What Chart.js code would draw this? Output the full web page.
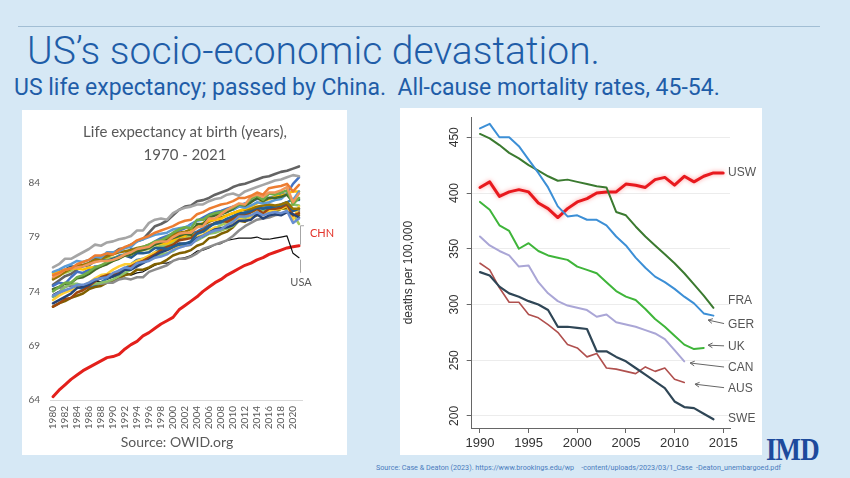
<!DOCTYPE html>
<html><head><meta charset="utf-8">
<script src="https://cdn.jsdelivr.net/npm/chart.js@4.4.1/dist/chart.umd.min.js"></script>
<style>
html,body{margin:0;padding:0;}
body{width:850px;height:478px;background:#d6e8f5;position:relative;overflow:hidden;font-family:Roboto,"Liberation Sans",sans-serif;}
.abs{position:absolute;white-space:nowrap;}
#rule{left:18px;top:26px;width:802px;height:1px;background:#a2bed4;}
#title{left:27px;top:28px;font-size:39px;font-weight:300;color:#1f5da8;}
#subtitle{left:14px;top:74px;font-size:23px;color:#1f5da8;}
.panel{position:absolute;background:#fff;}
#pL{left:22px;top:110px;width:325px;height:345px;}
#pR{left:400px;top:108px;width:362px;height:347px;}
#lt{left:0;width:326px;text-align:center;top:10px;font-family:Lato,sans-serif;font-size:15px;line-height:23px;color:#595959;}
#ls{left:0;width:310px;text-align:center;top:323px;font-family:Lato,sans-serif;font-size:14px;color:#595959;}
#foot{left:376px;top:463px;font-size:7.2px;color:#4a7cbd;white-space:pre;}
#imd{left:766px;top:431px;font-family:"Liberation Serif",serif;font-weight:bold;font-size:32px;color:#1d4a9c;transform:scaleX(0.84);transform-origin:left top;letter-spacing:-1px;}
canvas{position:absolute;left:0;top:0;}
</style></head>
<body>
<div id="rule" class="abs"></div>
<div id="title" class="abs">US’s socio-economic devastation.</div>
<div id="subtitle" class="abs">US life expectancy; passed by China.&nbsp; All-cause mortality rates, 45-54.</div>
<div id="pL" class="panel">
  <canvas id="cL" width="325" height="345"></canvas>
  <div id="lt" class="abs">Life expectancy at birth (years),<br>1970 - 2021</div>
  <div id="ls" class="abs">Source: OWID.org</div>
</div>
<div id="pR" class="panel">
  <canvas id="cR" width="362" height="347"></canvas>
</div>
<div id="foot" class="abs">Source: Case &amp; Deaton (2023). https://www.brookings.edu/wp    -content/uploads/2023/03/1_Case  -Deaton_unembargoed.pdf</div>
<div id="imd" class="abs">IMD</div>
<script>
// ---------- LEFT CHART DATA (life expectancy, 1980-2021) ----------
const years = [1980,1981,1982,1983,1984,1985,1986,1987,1988,1989,1990,1991,1992,1993,1994,1995,1996,1997,1998,1999,2000,2001,2002,2003,2004,2005,2006,2007,2008,2009,2010,2011,2012,2013,2014,2015,2016,2017,2018,2019,2020,2021];
const yTicksLeft = [64,69,74,79,84];

const japan = [76.2,76.5,77.0,77.0,77.3,77.6,77.9,78.3,78.2,78.5,78.6,78.8,78.9,79.1,79.6,79.6,80.3,80.6,80.7,80.6,81.2,81.5,81.7,81.8,82.0,82.0,82.3,82.5,82.6,82.9,83.0,82.8,83.2,83.4,83.6,83.8,84.0,84.2,84.3,84.5,84.7,84.6];
const hongKong = [74.6,75.0,75.4,75.6,76.0,76.4,76.6,77.0,77.2,77.3,77.5,77.9,78.0,78.3,78.6,78.8,79.4,80.0,80.2,80.5,81.0,81.5,81.8,81.9,82.3,82.4,82.6,82.9,83.1,83.3,83.6,83.8,83.9,84.1,84.3,84.5,84.6,84.8,85.0,85.1,85.3,85.5];
const switzerland = [75.5,75.7,76.0,76.1,76.5,76.7,76.9,77.3,77.3,77.5,77.4,77.8,78.1,78.3,78.7,78.9,79.1,79.4,79.6,79.8,80.0,80.3,80.5,80.6,81.1,81.3,81.6,81.8,82.0,82.1,82.3,82.6,82.6,82.8,83.1,82.9,83.5,83.6,83.7,83.9,83.2,83.8];
const spain = [75.3,75.6,76.0,76.1,76.2,76.3,76.5,76.7,76.8,76.8,76.9,77.1,77.4,77.6,77.9,78.0,78.1,78.5,78.6,78.6,79.0,79.3,79.4,79.4,79.9,80.0,80.7,80.7,81.1,81.5,81.8,82.1,82.0,82.7,82.9,82.7,83.1,83.1,83.3,83.6,82.2,83.0];
const italy = [74.0,74.4,74.8,74.8,75.3,75.5,75.8,76.2,76.4,76.7,76.9,77.1,77.4,77.6,77.9,78.1,78.3,78.6,78.7,79.0,79.4,79.7,79.9,79.8,80.6,80.6,81.0,81.2,81.3,81.5,81.7,82.0,82.0,82.5,82.8,82.4,83.0,82.9,83.1,83.3,82.0,82.6];
const france = [74.2,74.4,74.7,74.8,75.2,75.3,75.6,76.0,76.3,76.5,76.8,77.0,77.3,77.4,77.7,77.8,78.0,78.3,78.5,78.7,78.9,79.1,79.3,79.2,80.2,80.2,80.8,81.0,81.1,81.3,81.6,82.0,81.9,82.2,82.6,82.3,82.6,82.6,82.7,82.9,82.2,82.5];
const sweden = [75.8,76.0,76.3,76.5,76.8,76.7,76.9,77.2,77.1,77.6,77.6,77.7,78.0,78.1,78.6,78.8,79.0,79.2,79.3,79.4,79.7,79.8,79.9,80.1,80.5,80.6,80.8,81.0,81.2,81.4,81.5,81.8,81.7,81.9,82.2,82.1,82.2,82.4,82.5,83.0,82.4,83.2];
const australia = [74.5,74.8,74.7,75.3,75.8,75.7,76.0,76.3,76.3,76.6,77.0,77.3,77.4,77.9,77.9,78.0,78.2,78.6,78.9,79.1,79.3,79.6,79.8,80.2,80.5,80.8,81.1,81.3,81.4,81.6,81.8,81.9,82.1,82.3,82.5,82.5,82.6,82.7,82.9,83.0,83.9,84.5];
const norway = [75.7,75.8,76.0,76.1,76.1,76.0,76.2,76.2,76.3,76.6,76.8,77.1,77.3,77.4,77.8,77.9,78.2,78.3,78.4,78.4,78.7,79.0,79.1,79.5,79.9,80.3,80.5,80.6,80.7,81.0,81.2,81.4,81.6,81.8,82.1,82.3,82.5,82.7,82.8,83.0,83.2,83.2];
const canada = [75.1,75.4,75.8,76.1,76.4,76.4,76.6,76.9,77.0,77.2,77.4,77.6,77.7,77.8,78.0,78.1,78.3,78.5,78.6,78.8,79.2,79.4,79.5,79.7,80.0,80.1,80.4,80.6,80.8,81.0,81.2,81.4,81.5,81.6,81.8,81.9,82.0,81.9,82.0,82.2,81.6,81.6];
const netherlands = [75.7,75.9,76.0,76.3,76.3,76.3,76.4,76.8,76.9,76.8,77.0,77.2,77.3,77.1,77.5,77.5,77.6,78.0,78.0,77.9,78.1,78.3,78.4,78.6,79.3,79.5,79.9,80.3,80.4,80.7,80.9,81.2,81.2,81.4,81.7,81.6,81.7,81.8,81.9,82.2,81.4,81.6];
const uk = [73.6,73.9,74.1,74.3,74.6,74.6,74.8,75.1,75.2,75.3,75.7,75.9,76.2,76.1,76.6,76.7,76.8,77.1,77.2,77.4,77.8,78.0,78.2,78.3,78.8,79.1,79.4,79.6,79.7,80.1,80.4,80.9,80.9,81.0,81.3,81.0,81.2,81.3,81.2,81.4,80.3,80.7];
const germany = [72.9,73.2,73.5,73.8,74.3,74.4,74.6,75.0,75.2,75.3,75.4,75.6,76.0,76.0,76.3,76.6,76.9,77.3,77.6,77.8,78.1,78.4,78.4,78.4,78.9,79.1,79.4,79.7,79.8,79.9,80.1,80.5,80.5,80.6,81.1,80.7,81.0,81.1,81.0,81.3,81.1,80.8];
const austria = [72.6,72.9,73.3,73.4,73.9,74.1,74.5,74.9,75.3,75.5,75.6,75.8,76.0,76.3,76.6,76.8,77.1,77.4,77.8,78.1,78.3,78.7,78.8,78.9,79.4,79.6,80.0,80.3,80.5,80.4,80.7,81.1,81.0,81.3,81.6,81.2,81.6,81.6,81.7,82.0,81.0,81.2];
const belgium = [73.2,73.6,73.9,74.1,74.3,74.5,74.8,75.2,75.5,75.6,76.0,76.3,76.5,76.5,76.8,77.0,77.3,77.6,77.7,77.8,77.9,78.1,78.2,78.3,79.0,79.2,79.6,79.9,79.7,80.1,80.2,80.7,80.5,80.8,81.4,81.0,81.4,81.5,81.6,81.9,80.6,81.8];
const finland = [73.5,73.9,74.4,74.7,74.7,74.5,74.6,74.7,74.8,74.9,75.1,75.4,75.7,76.0,76.6,76.7,77.0,77.1,77.4,77.5,77.7,78.1,78.2,78.5,78.7,79.0,79.3,79.4,79.6,79.8,80.0,80.5,80.6,80.8,81.2,81.5,81.4,81.6,81.7,81.9,82.0,81.9];
const denmark = [74.2,74.3,74.4,74.6,74.6,74.5,74.6,74.7,74.7,74.8,74.8,75.1,75.2,75.1,75.3,75.3,75.8,76.0,76.2,76.4,76.8,77.0,77.0,77.2,77.5,77.9,78.1,78.3,78.5,78.7,79.1,79.6,80.0,80.3,80.6,80.7,80.8,81.0,81.1,81.4,81.5,81.4];
const portugal = [72.6,72.9,73.1,73.4,73.6,73.8,74.2,74.4,74.5,74.8,74.9,75.2,75.5,75.6,76.0,76.0,76.2,76.5,76.6,76.9,77.3,77.5,77.6,77.8,78.2,78.4,78.9,79.0,79.3,79.5,79.9,80.5,80.4,80.8,81.0,81.1,81.3,81.4,81.6,81.7,80.9,81.0];
const greece = [75.2,75.5,75.7,75.9,76.2,76.4,76.6,76.7,76.9,77.0,77.1,77.2,77.4,77.5,77.6,77.8,77.9,78.0,78.2,78.3,78.5,78.7,78.9,79.1,79.3,79.5,79.6,79.8,80.1,80.3,80.6,80.8,80.7,81.3,81.4,81.1,81.4,81.3,81.6,81.6,81.1,80.2];
const newZealand = [73.5,73.7,74.0,74.1,74.4,74.2,74.4,74.5,74.8,75.2,75.4,75.9,76.1,76.5,76.9,77.0,77.2,77.6,78.0,78.3,78.6,78.8,79.0,79.3,79.5,79.8,80.1,80.2,80.3,80.6,80.9,81.0,81.3,81.5,81.6,81.7,81.8,81.8,82.0,82.2,82.5,82.4];
const usa = [73.7,74.0,74.4,74.5,74.6,74.6,74.7,74.9,74.9,75.1,75.3,75.4,75.7,75.5,75.7,75.8,76.1,76.4,76.6,76.6,76.8,77.0,77.1,77.3,77.7,77.8,78.0,78.3,78.4,78.7,78.8,78.9,78.9,78.9,79.0,78.8,78.8,78.9,79.0,79.1,77.5,77.1];
const china = [64.3,64.9,65.4,65.9,66.3,66.7,67.0,67.3,67.6,67.9,68.0,68.2,68.7,69.1,69.4,69.9,70.2,70.6,71.0,71.3,71.6,72.3,72.7,73.1,73.5,74.0,74.4,74.8,75.1,75.5,75.8,76.1,76.4,76.6,76.9,77.1,77.4,77.6,77.8,78.0,78.1,78.2];

// ---------- RIGHT CHART DATA (all-cause mortality 45-54, deaths per 100,000) ----------
const yearsR = [1990,1991,1992,1993,1994,1995,1996,1997,1998,1999,2000,2001,2002,2003,2004,2005,2006,2007,2008,2009,2010,2011,2012,2013,2014,2015];
const xTicksRight = [1990,1995,2000,2005,2010,2015];
const yTicksRight = [200,250,300,350,400,450];
const usw = [405,410,397,401,403,401,391,386,378,386,392,395,400,401,401,408,407,405,412,414,407,415,410,415,418,418];
const fra = [453,449,443,436,431,425,420,415,411,412,410,408,406,405,383,380,370,361,353,345,337,328,318,308,297];
const ger = [458,462,450,450,442,430,418,405,388,379,380,376,376,371,361,353,342,333,325,320,314,307,301,292,290];
const ukR = [392,385,371,366,350,355,348,344,342,340,334,331,328,320,312,307,304,296,287,280,272,264,260,261];
const can = [361,353,348,344,334,335,320,310,303,299,297,295,289,291,284,282,280,277,274,269,259,249];
const aus = [337,331,315,302,302,291,288,282,275,264,261,253,256,243,242,240,238,244,240,243,233,230];
const swe = [329,326,316,310,307,303,300,295,280,280,279,278,258,258,253,249,243,237,231,225,213,208,207,202,197];

// ---------- LEFT CHART ----------
const leftSeries = [
  [japan,'#a5a5a5',2.6],[switzerland,'#ed7d31',2.5],[spain,'#f1975a',2.5],[italy,'#70ad47',2.5],
  [france,'#43682b',2.5],[sweden,'#5b9bd5',2.5],[norway,'#ffc000',2.5],[canada,'#997300',2.5],
  [netherlands,'#255e91',2.5],[uk,'#698ed0',2.5],[germany,'#264478',2.5],[austria,'#9e480e',2.5],
  [belgium,'#ffcd33',2.5],[finland,'#8cc168',2.5],[denmark,'#8c8c8c',2.5],[portugal,'#7f6000',2.5],
  [greece,'#a9c957',2.5],[newZealand,'#2e75b6',2.5],[australia,'#4472c4',2.5],[hongKong,'#636363',2.6],
  [usa,'#111111',1.2],[china,'#e3201b',3]
];
const leftLabels = {
  id:'leftLabels',
  afterDatasetsDraw(chart){
    const {ctx, scales:{x,y}} = chart;
    const last = years.length-1;
    const px = x.getPixelForValue(last);
    const cy = y.getPixelForValue(china[last]);
    const uy = y.getPixelForValue(usa[last]);
    ctx.save();
    ctx.strokeStyle='#a6a6a6'; ctx.lineWidth=1;
    ctx.beginPath(); ctx.moveTo(px+1.5,cy-1); ctx.lineTo(px+1.5,cy-20); ctx.lineTo(px+5,cy-20); ctx.stroke();
    ctx.beginPath(); ctx.moveTo(px+1.5,uy+2); ctx.lineTo(px+1.5,uy+15); ctx.stroke();
    ctx.font='11px Lato, sans-serif'; ctx.textBaseline='middle';
    ctx.fillStyle='#e3332a'; ctx.textAlign='left'; ctx.fillText('CHN',px+11,cy-12);
    ctx.fillStyle='#595959'; ctx.textAlign='center'; ctx.fillText('USA',px+2,uy+25);
    ctx.restore();
  }
};
new Chart(document.getElementById('cL'),{
  type:'line',
  data:{labels:years.map(String),
    datasets:leftSeries.map(([d,c,w])=>({data:d,borderColor:c,borderWidth:w,pointRadius:0,fill:false,tension:0}))},
  options:{
    responsive:false,animation:false,
    layout:{padding:{left:0,right:45,top:51,bottom:0}},
    plugins:{legend:{display:false},tooltip:{enabled:false},title:{display:false}},
    elements:{line:{borderJoinStyle:'round',borderCapStyle:'round'}},
    scales:{
      x:{offset:true,grid:{display:false,drawTicks:false},border:{display:true,color:'#d9d9d9'},
        ticks:{autoSkip:false,minRotation:90,maxRotation:90,padding:6,color:'#595959',font:{family:'Lato',size:10},
          callback:(v,i)=> i%2===0 ? String(years[i]) : ''},
        afterFit:s=>{s.height=55;}},
      y:{min:64,max:86,afterBuildTicks:s=>{s.ticks=yTicksLeft.map(v=>({value:v}));},
        grid:{display:false,drawTicks:false},border:{display:false},
        ticks:{padding:10,color:'#595959',font:{family:'Lato',size:10}},
        afterFit:s=>{s.width=28;}}
    }
  },
  plugins:[leftLabels]
});

// ---------- RIGHT CHART ----------
const rightSeries = [
  ['SWE',swe,'#2f4656',2.2],['AUS',aus,'#b0504e',1.6],['CAN',can,'#aaa6d6',2],['UK',ukR,'#3fb53a',2],
  ['GER',ger,'#3c8fd6',2],['FRA',fra,'#3b7a30',2],['USW',usw,'#e8191e',3]
];
const rightLabels = {
  id:'rightLabels',
  beforeDatasetDraw(chart,args){
    if(chart.data.datasets[args.index].label==='USW'){
      chart.ctx.save(); chart.ctx.shadowColor='rgba(255,60,60,0.5)'; chart.ctx.shadowBlur=4;
    }
  },
  afterDatasetDraw(chart,args){
    if(chart.data.datasets[args.index].label==='USW'){ chart.ctx.restore(); }
  },
  afterDatasetsDraw(chart){
    const {ctx, scales:{x,y}} = chart;
    const notes = [
      {t:'USW',v:418},{t:'FRA',v:303},{t:'GER',v:282,tip:[2013.45,286]},
      {t:'UK',v:262,tip:[2013.45,263.5]},{t:'CAN',v:243,tip:[2011.6,247.5]},
      {t:'AUS',v:224.5,tip:[2012.1,228.5]},{t:'SWE',v:198}
    ];
    ctx.save();
    ctx.font='12px "Liberation Sans", Arial, sans-serif'; ctx.fillStyle='#555'; ctx.textAlign='left'; ctx.textBaseline='middle';
    const tx = x.getPixelForValue(2015.5);
    notes.forEach(n=>{
      const ty = y.getPixelForValue(n.v);
      ctx.fillText(n.t,tx,ty);
      if(n.tip){
        const ax = x.getPixelForValue(n.tip[0]), ay = y.getPixelForValue(n.tip[1]);
        const bx = tx-4, by = ty-1;
        ctx.strokeStyle='#666'; ctx.lineWidth=1;
        ctx.beginPath(); ctx.moveTo(bx,by); ctx.lineTo(ax,ay); ctx.stroke();
        const ang = Math.atan2(by-ay,bx-ax);
        ctx.beginPath();
        ctx.moveTo(ax+5*Math.cos(ang+0.5),ay+5*Math.sin(ang+0.5));
        ctx.lineTo(ax,ay);
        ctx.lineTo(ax+5*Math.cos(ang-0.5),ay+5*Math.sin(ang-0.5));
        ctx.stroke();
      }
    });
    ctx.restore();
  }
};
const fontR = {family:'"Liberation Sans", Arial, sans-serif',size:12};
new Chart(document.getElementById('cR'),{
  type:'line',
  data:{labels:yearsR,
    datasets:rightSeries.map(([n,d,c,w])=>({label:n,data:d,borderColor:c,borderWidth:w,pointRadius:0,fill:false,tension:0}))},
  options:{
    responsive:false,animation:false,
    layout:{padding:{left:0,right:32,top:2,bottom:0}},
    plugins:{legend:{display:false},tooltip:{enabled:false}},
    elements:{line:{borderJoinStyle:'round',borderCapStyle:'round'}},
    scales:{
      x:{type:'linear',min:1989.15,max:2015.7,
        afterBuildTicks:s=>{s.ticks=xTicksRight.map(v=>({value:v}));},
        grid:{drawOnChartArea:false,tickLength:5,tickColor:'#666'},border:{color:'#666'},
        ticks:{padding:3,maxRotation:0,color:'#333',font:{family:fontR.family,size:13},callback:v=>String(v)},
        afterFit:s=>{s.height=27;}},
      y:{min:189.2,max:468,
        afterBuildTicks:s=>{s.ticks=yTicksRight.map(v=>({value:v}));},
        grid:{color:'#ececec',tickLength:5,tickColor:'#666'},border:{color:'#666'},
        ticks:{minRotation:90,maxRotation:90,crossAlign:'center',padding:2,color:'#333',font:fontR,callback:v=>String(v)},
        title:{display:true,text:'deaths per 100,000',color:'#333',font:fontR,padding:{top:1,bottom:0}},
        afterFit:s=>{s.width=71.7;}}
    }
  },
  plugins:[rightLabels]
});
</script>
</body></html>
